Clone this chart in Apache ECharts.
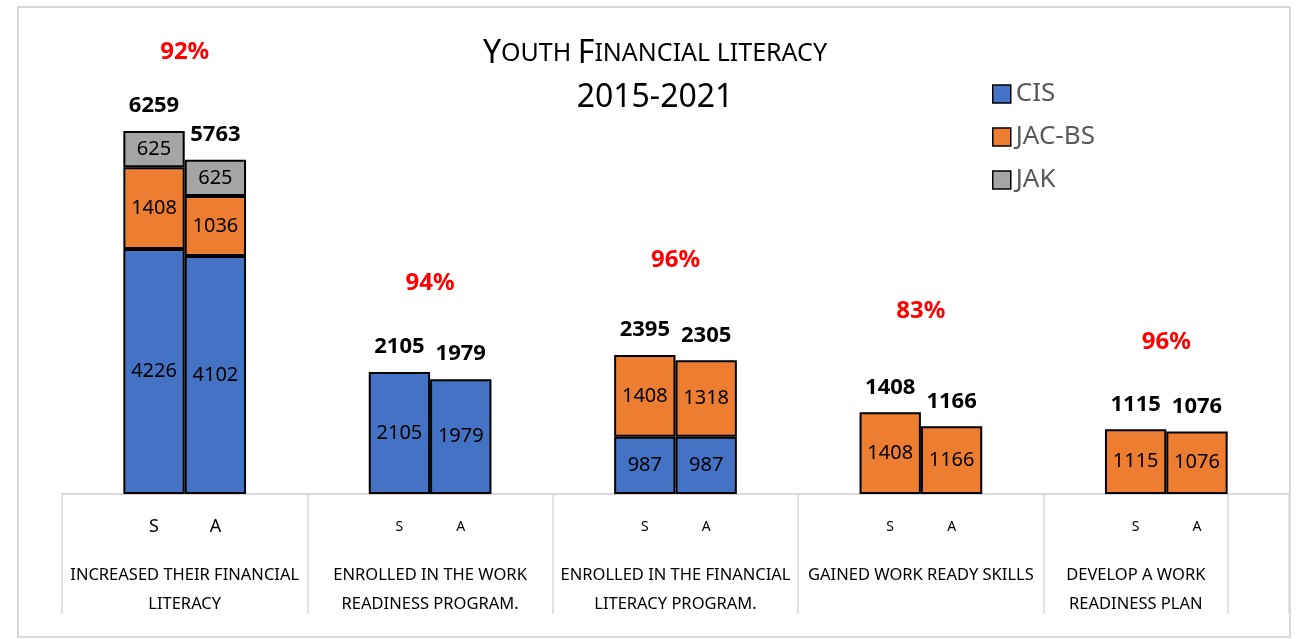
<!DOCTYPE html>
<html>
<head>
<meta charset="utf-8">
<title>Youth Financial literacy 2015-2021</title>
<script src="https://cdn.jsdelivr.net/npm/echarts@6/dist/echarts.min.js"></script>
<style>
  html, body { margin: 0; padding: 0; background: #fff; }
  #chart { width: 1299px; height: 639px; }
</style>
</head>
<body>
<div id="chart"></div>
<script>
// Outcome groups (category axis); each group has an S and an A stack
const categories = [
  'INCREASED THEIR FINANCIAL\nLITERACY',
  'ENROLLED IN THE WORK\nREADINESS PROGRAM.',
  'ENROLLED IN THE FINANCIAL\nLITERACY PROGRAM.',
  'GAINED WORK READY SKILLS',
  'DEVELOP A WORK\nREADINESS PLAN'
];
const stackLabels = ['S', 'A'];
const seriesNames = ['CIS', 'JAC-BS', 'JAK'];

// S stack values per program
const cisS = [4226, 2105, 987, null, null];
const jacS = [1408, null, 1408, 1408, 1115];
const jakS = [625, null, null, null, null];

// A stack values per program
const cisA = [4102, 1979, 987, null, null];
const jacA = [1036, null, 1318, 1166, 1076];
const jakA = [625, null, null, null, null];

// Completion rate written above each group (percent)
const pctValues = [92, 94, 96, 83, 96];
// Height (value units) at which each group's percentage is written
const pctLabelLevel = [7620, 3640, 4030, 3160, 2620];

const colors = { 'CIS': '#4472c4', 'JAC-BS': '#ed7d31', 'JAK': '#a5a5a5' };
const FONT = 'Noto Sans';

const sum = (arrs) => categories.map((_, i) => arrs.reduce((t, a) => t + (a[i] || 0), 0));
const totalsS = sum([cisS, jacS, jakS]);
const totalsA = sum([cisA, jacA, jakA]);

function segment(name, stack, data) {
  return {
    name: name,
    type: 'bar',
    stack: stack,
    barWidth: '25%',
    barGap: '0%',
    data: data,
    itemStyle: { color: colors[name], borderColor: '#000', borderWidth: 2 },
    label: {
      show: true,
      position: 'inside',
      color: '#000',
      fontFamily: FONT,
      fontSize: 20,
      formatter: p => (p.value == null ? '' : p.value)
    }
  };
}

function totalSeries(stack, totals) {
  return {
    name: 'total-' + stack,
    type: 'bar',
    stack: stack,
    barWidth: '25%',
    barGap: '0%',
    silent: true,
    data: totals.map(() => 0),
    itemStyle: { color: 'transparent', borderWidth: 0 },
    label: {
      show: true,
      position: 'top',
      distance: 14,
      color: '#000',
      fontFamily: FONT,
      fontWeight: 'bold',
      fontSize: 22,
      formatter: p => totals[p.dataIndex]
    }
  };
}

const chart = echarts.init(document.getElementById('chart'), null, { renderer: 'canvas' });

const lastIndex = categories.length - 1;

const option = {
  animation: false,
  backgroundColor: '#fff',
  textStyle: { fontFamily: FONT },
  title: {
    text: '{b|Y}{s|OUTH }{b|F}{s|INANCIAL LITERACY}\n{y|2015-2021}',
    left: 655,
    top: 32,
    textAlign: 'center',
    padding: 0,
    textStyle: {
      fontWeight: 'normal',
      rich: {
        b: { fontFamily: FONT, fontSize: 32, fontWeight: 'normal', color: '#000', lineHeight: 44 },
        s: { fontFamily: FONT, fontSize: 25, fontWeight: 'normal', color: '#000', lineHeight: 44 },
        y: { fontFamily: FONT, fontSize: 32, fontWeight: 'normal', color: '#000', lineHeight: 44 }
      }
    }
  },
  legend: {
    data: seriesNames,
    orient: 'vertical',
    left: 987,
    top: 76,
    itemWidth: 18,
    itemHeight: 18,
    itemGap: 17,
    icon: 'rect',
    itemStyle: { borderColor: '#000', borderWidth: 1.5 },
    textStyle: { fontFamily: FONT, fontSize: 26, color: '#595959', lineHeight: 26 }
  },
  grid: { left: 62, right: 10, top: 30, bottom: 145 },
  xAxis: {
    type: 'category',
    data: categories,
    axisLine: { lineStyle: { color: '#d9d9d9', width: 2 } },
    axisTick: { show: true, interval: 0, length: 120, lineStyle: { color: '#d9d9d9', width: 1.5 } },
    axisLabel: {
      interval: 0,
      margin: 13,
      formatter: (value, index) => {
        const sa = index === 0 ? 'saBig' : 'sa';
        const cat = index === lastIndex ? 'catLast' : 'cat';
        const head = stackLabels.map(t => '{' + sa + '|' + t + '}').join('');
        const lines = value.split('\n').map(l => '{' + cat + '|' + l + '}').join('\n');
        return head + '\n{gap| }\n' + lines;
      },
      rich: {
        saBig: { fontFamily: FONT, fontSize: 18, color: '#000', width: 61.4, align: 'center', lineHeight: 40 },
        sa: { fontFamily: FONT, fontSize: 14, color: '#000', width: 61.4, align: 'center', lineHeight: 40 },
        gap: { fontSize: 4, lineHeight: 14 },
        cat: { fontFamily: FONT, fontSize: 16.5, color: '#000', lineHeight: 29 },
        // last cell of the table is narrower, so its text sits further left
        catLast: { fontFamily: FONT, fontSize: 16.5, color: '#000', lineHeight: 29, padding: [0, 61, 0, 0] }
      }
    }
  },
  yAxis: { type: 'value', min: 0, max: 8000, show: false, splitLine: { show: false } },
  series: [
    segment('CIS', 'S', cisS),
    segment('JAC-BS', 'S', jacS),
    segment('JAK', 'S', jakS),
    totalSeries('S', totalsS),
    segment('CIS', 'A', cisA),
    segment('JAC-BS', 'A', jacA),
    segment('JAK', 'A', jakA),
    totalSeries('A', totalsA),
    {
      name: 'ratio',
      type: 'scatter',
      silent: true,
      symbolSize: 0,
      itemStyle: { color: '#ff0000', opacity: 1 },
      data: pctLabelLevel.map((v, i) => [i, v]),
      label: {
        show: true,
        position: 'inside',
        color: '#ff0000',
        fontFamily: FONT,
        fontWeight: 'bold',
        fontSize: 24,
        formatter: p => pctValues[p.dataIndex] + '%'
      }
    }
  ]
};

chart.setOption(option);

// Frame round the chart, plus the closing divider of the last group's table cell
const x0 = chart.convertToPixel({ xAxisIndex: 0 }, 0);
const x1 = chart.convertToPixel({ xAxisIndex: 0 }, 1);
const band = x1 - x0;
const lastCenter = chart.convertToPixel({ xAxisIndex: 0 }, lastIndex);
const baseY = chart.convertToPixel({ yAxisIndex: 0 }, 0);
const dividerX = Math.round(lastCenter + band * 0.25);

chart.setOption({
  graphic: [
    {
      type: 'rect',
      silent: true,
      shape: { x: 18, y: 7, width: 1272, height: 630 },
      style: { fill: 'none', stroke: '#d9d9d9', lineWidth: 2 }
    },
    {
      type: 'line',
      silent: true,
      shape: { x1: dividerX, y1: baseY, x2: dividerX, y2: baseY + 120 },
      style: { stroke: '#d9d9d9', lineWidth: 1.5 }
    }
  ]
});
</script>
</body>
</html>
